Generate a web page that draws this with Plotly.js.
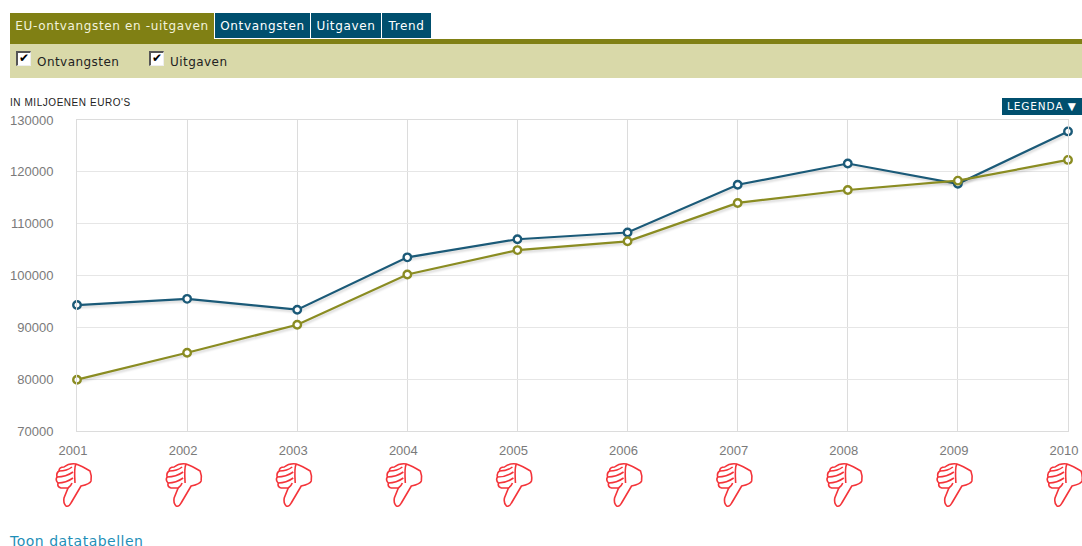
<!DOCTYPE html>
<html><head><meta charset="utf-8">
<script src="https://cdn.plot.ly/plotly-3.0.1.min.js"></script>
<style>
html,body{margin:0;padding:0;background:#fff;overflow:hidden;width:1082px;height:546px}
#chart{position:absolute;left:0;top:0;width:1082px;height:546px}
.c{position:absolute;font-family:"DejaVu Sans",sans-serif;white-space:nowrap;box-sizing:border-box}
.tab{top:13px;height:25px;background:#004f6e;color:#fff;font-size:12px;line-height:25px;letter-spacing:.65px;text-align:center}
.box{top:51px;width:15px;height:15px;background:#fff;border:2px solid #555;border-right:1px solid #eee;border-bottom:1px solid #eee;color:#000;font-size:12px;line-height:11px;text-align:center;font-weight:bold}
.lbl{top:54px;font-size:12px;line-height:16px;color:#222;letter-spacing:.45px}
</style></head><body>
<div id="chart"></div>
<div class="c" style="left:10px;top:39px;width:1072px;height:5px;background:#808014"></div>
<div class="c" style="left:10px;top:44px;width:1072px;height:34px;background:#d9d9a9"></div>
<div class="c tab" style="left:10px;width:204px;height:31px;background:#808014;color:#f2f2dc;line-height:26px">EU-ontvangsten en -uitgaven</div>
<div class="c tab" style="left:215px;width:95px;line-height:26px">Ontvangsten</div>
<div class="c tab" style="left:311px;width:70px;line-height:26px">Uitgaven</div>
<div class="c tab" style="left:382px;width:49px;line-height:26px">Trend</div>
<div class="c box" style="left:16px">&#10004;</div>
<div class="c lbl" style="left:37px">Ontvangsten</div>
<div class="c box" style="left:149px">&#10004;</div>
<div class="c lbl" style="left:170px">Uitgaven</div>
<div class="c" style="left:10px;top:97px;font-family:'Liberation Sans',sans-serif;font-size:10px;line-height:12px;letter-spacing:.55px;color:#222">IN MILJOENEN EURO'S</div>
<div class="c" style="left:1002px;top:98px;width:80px;height:17px;background:#004f6e;color:#fff;font-size:10.5px;line-height:17px;letter-spacing:.9px;padding-left:5px">LEGENDA &#9660;</div>
<div class="c" style="left:10px;top:532px;font-size:14px;line-height:18px;letter-spacing:.5px;color:#1f8fb8">Toon datatabellen</div>
<script>
const years = [2001,2002,2003,2004,2005,2006,2007,2008,2009,2010];
const ontvangsten = [94300,95500,93400,103500,107000,108300,117500,121600,117700,127800];
const uitgaven = [79900,85100,90500,100200,104900,106600,114000,116500,118300,122300];
const yTicks = [70000,80000,90000,100000,110000,120000,130000];
const blue = '#1b5a78', olive = '#8a8c22';
const thumbOutline = 'M-1,33 Q5,35 13,40 Q15,45 14,50 Q13,53 4,55 L-6,72 Q-8,76 -11,75 Q-14,72 -13,67 L-9,57 L-16,57 Q-20,56 -19,52 Q-22,49 -20,46 Q-21,42 -18,40 Q-18,36 -13,36 Q-8,32 -1,33 Z';
const thumbFingers = 'M-18,40 Q-10,40 -5,36 M-20,46 Q-11,46 -4,41 M-19,52 Q-11,52 -4,47 M-9,57 Q-6,55 -5,52 M-1,33 Q-3,36 -2,52';

function flip(p){return p.replace(/(-?\d+(?:\.\d+)?),(-?\d+(?:\.\d+)?)/g,(m,a,b)=>a+','+(-b));}
const shapes = [];
years.forEach(y=>{
  [thumbOutline,thumbFingers].forEach(p=>shapes.push({
    type:'path',xref:'paper',yref:'paper',xsizemode:'pixel',ysizemode:'pixel',
    xanchor:(y-years[0])/(years[years.length-1]-years[0]),yanchor:0,
    path:flip(p),line:{color:'#f4343a',width:1.6},fillcolor:'rgba(0,0,0,0)',layer:'above'
  }));
});
function trace(name,vals,color){return {type:'scatter',mode:'lines+markers',name,x:years,y:vals,cliponaxis:false,
  line:{color,width:2.2},marker:{symbol:'circle',size:7.5,color:'#fff',line:{color,width:2.4}},hoverinfo:'x+y'};}
Plotly.newPlot('chart',[trace('Ontvangsten',ontvangsten,blue),trace('Uitgaven',uitgaven,olive)],{
  width:1082,height:546,margin:{l:77,r:14,t:120,b:115},showlegend:false,
  paper_bgcolor:'rgba(0,0,0,0)',plot_bgcolor:'#fff',
  font:{family:'"Liberation Sans",Arial,sans-serif',size:13,color:'#7a7a7a'},
  xaxis:{type:'linear',range:[2001,2010],tickmode:'array',tickvals:years,ticktext:years.map(String),
    showgrid:true,gridcolor:'#dcdcdc',gridwidth:1,zeroline:false,showline:true,linecolor:'#dcdcdc',linewidth:1,mirror:true,
    ticks:'',ticklabelshift:-4,ticklabelstandoff:7,tickfont:{size:13,color:'#7a7a7a'}},
  yaxis:{range:[70000,130000],tickmode:'array',tickvals:yTicks,ticktext:yTicks.map(String),
    showgrid:true,gridcolor:'#e6e6e6',gridwidth:1,zeroline:false,showline:true,linecolor:'#dcdcdc',linewidth:1,mirror:true,
    ticks:'',ticklabelstandoff:20,tickfont:{size:13,color:'#7a7a7a'}},
  shapes
},{displayModeBar:false,staticPlot:true}).then(()=>{
  document.querySelectorAll('.scatterlayer .trace .js-line').forEach(p=>{
    p.style.filter='drop-shadow(1px 2px 1px rgba(0,0,0,.16))';
  });
});
</script>
</body></html>
